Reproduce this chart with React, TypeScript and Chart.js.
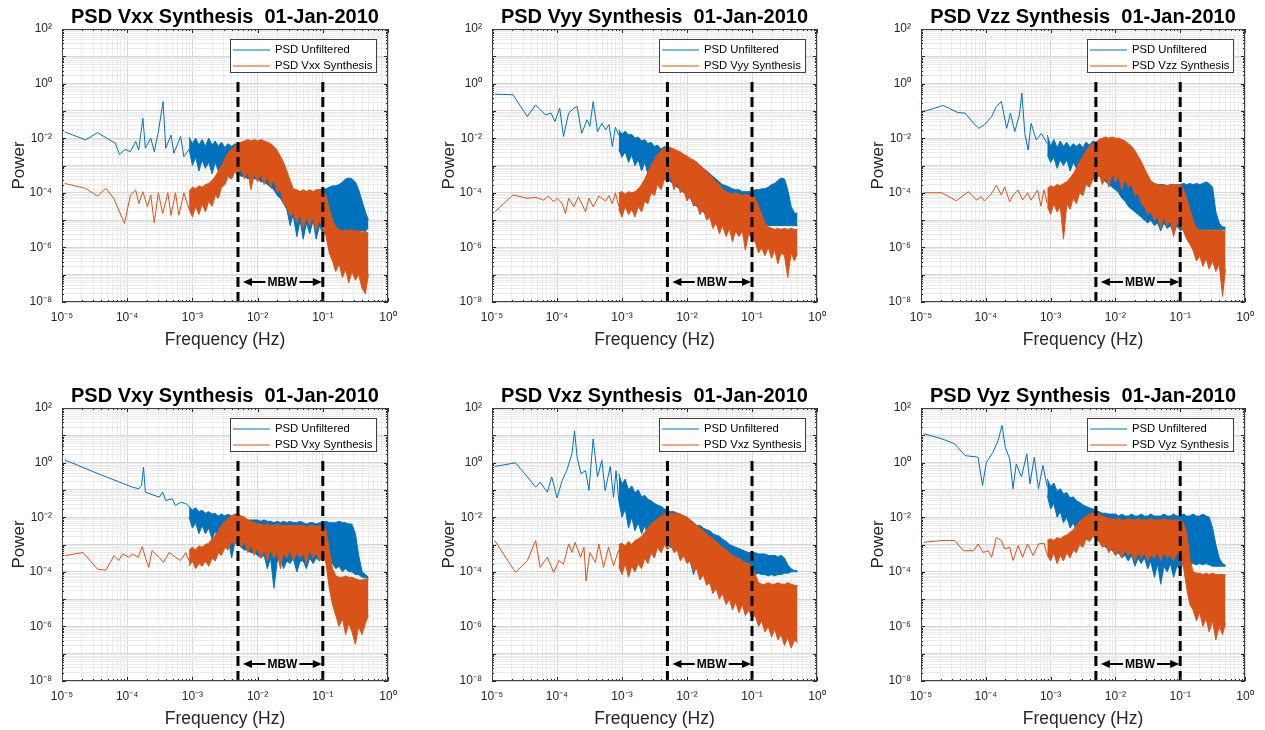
import React, { useEffect, useRef } from 'react';
import { Chart, registerables } from 'chart.js';

Chart.register(...registerables);

const FONT = "'Liberation Sans', Arial, Helvetica, sans-serif";
const BLUE = '#0072BD';
const ORANGE = '#D95319';
const TEXT = '#262626';

// ---- axis / annotation values ----
const freqRange = [1e-5, 1];
const powerRange = [1e-8, 1e2];
const xLabelExponents = [-5, -4, -3, -2, -1, 0];
const yLabelExponents = [-8, -6, -4, -2, 0, 2];
const mbwBand = [5e-3, 0.1];
const mbwLineTop = 1.75;
const mbwArrowLevel = [5.4e-8, 5.4e-8, 5.4e-8, 4.1e-8, 4.1e-8, 4.1e-8];
const components = ['Vxx', 'Vyy', 'Vzz', 'Vxy', 'Vxz', 'Vyz'];
const dateLabel = '01-Jan-2010';
const unfilteredLabel = 'PSD Unfiltered';

// frequency bins (Hz) where the dense spectra are read as upper / lower envelopes
const denseFreq = [
  8.9e-4, 1e-3, 1.12e-3, 1.26e-3, 1.41e-3, 1.58e-3, 1.78e-3, 2e-3, 2.24e-3, 2.5e-3,
  2.8e-3, 3.16e-3, 3.5e-3, 4e-3, 4.5e-3, 5e-3, 5.6e-3, 6.3e-3, 7.1e-3, 7.9e-3,
  8.9e-3, 1e-2, 1.12e-2, 1.26e-2, 1.41e-2, 1.58e-2, 1.78e-2, 2e-2, 2.24e-2, 2.5e-2,
  2.8e-2, 3.16e-2, 3.5e-2, 4e-2, 4.5e-2, 5e-2, 5.6e-2, 6.3e-2, 7.1e-2, 7.9e-2,
  8.9e-2, 0.1, 0.112, 0.126, 0.141, 0.158, 0.178, 0.2, 0.224, 0.25,
  0.28, 0.316, 0.355, 0.4, 0.45, 0.5,
];

// ---- Vxx ----
const vxxUnfLineF = [1.1e-5, 2.3e-5, 3.5e-5, 6.6e-5, 7.6e-5, 9.3e-5, 1.12e-4, 1.35e-4, 1.5e-4, 1.74e-4, 1.9e-4, 2.3e-4, 2.6e-4, 3.0e-4, 3.55e-4, 3.9e-4, 4.7e-4, 5.2e-4, 6.6e-4, 7.4e-4, 8.9e-4];
const vxxUnfLineP = [1.7e-2, 8.7e-3, 1.6e-2, 6.5e-3, 2.5e-3, 3.9e-3, 3.2e-3, 7.6e-3, 3.7e-3, 5.4e-2, 4.3e-3, 1e-2, 3.2e-3, 1.7e-2, 2.2e-1, 4.3e-3, 1.3e-2, 2.8e-3, 1.15e-2, 2.1e-3, 4e-3];
const vxxUnfHi = [
  1.1e-2, 6.3e-3, 1e-2, 5.6e-3, 8.9e-3, 5e-3, 1e-2, 5.6e-3, 7.9e-3, 5e-3,
  7.1e-3, 4.5e-3, 6.3e-3, 5e-3, 6.3e-3, 5.6e-3, 6.3e-3, 6.3e-3, 5.6e-3, 6.3e-3,
  6.3e-3, 5.6e-3, 6.3e-3, 5e-3, 4.5e-3, 4e-3, 3.2e-3, 2.5e-3, 1.8e-3, 1.1e-3,
  5e-4, 2e-4, 1.3e-4, 1.1e-4, 1.1e-4, 1.1e-4, 1.1e-4, 1.1e-4, 1.1e-4, 1.1e-4,
  1.3e-4, 1.3e-4, 1.4e-4, 1.6e-4, 1.8e-4, 1.8e-4, 2e-4, 2.5e-4, 3.2e-4, 3.5e-4,
  3.2e-4, 2.5e-4, 1.3e-4, 5e-5, 2e-5, 1e-5,
];
const vxxUnfLo = [
  4e-3, 1e-3, 2e-3, 6.3e-4, 1.6e-3, 7.9e-4, 1.3e-3, 5e-4, 1.3e-3, 6.3e-4,
  1e-3, 4e-4, 7.9e-4, 5e-4, 7.9e-4, 5e-4, 4e-4, 4e-4, 3.2e-4, 4e-4,
  3.2e-4, 3.2e-4, 2.5e-4, 2.5e-4, 2e-4, 1.6e-4, 1.3e-4, 7.9e-5, 6.3e-5, 4e-5,
  2.5e-5, 6.3e-6, 1.6e-5, 2.5e-6, 1e-5, 2e-6, 7.9e-6, 3.2e-6, 1e-5, 2e-6,
  6.3e-6, 3.2e-6, 5e-6, 4e-6, 5e-6, 4e-6, 4e-6, 4e-6, 4e-6, 4e-6,
  4e-6, 4e-6, 4e-6, 4e-6, 4e-6, 5e-6,
];
const vxxSynLineF = [1.1e-5, 2.3e-5, 3.5e-5, 4.7e-5, 6.2e-5, 9.1e-5, 1.12e-4, 1.35e-4, 1.51e-4, 1.74e-4, 2.04e-4, 2.3e-4, 2.6e-4, 3.0e-4, 3.5e-4, 4.2e-4, 4.7e-4, 5.5e-4, 6.2e-4, 7.4e-4, 8.9e-4];
const vxxSynLineP = [2.2e-4, 1.45e-4, 7.6e-5, 1.45e-4, 6.3e-5, 7.6e-6, 8.3e-5, 1.26e-4, 4.1e-5, 1.1e-4, 3.1e-5, 8.3e-5, 7.9e-6, 1e-4, 1.74e-5, 1e-4, 1.5e-5, 1e-4, 1.5e-5, 1e-4, 2.5e-5];
const vxxSynHi = [
  1.1e-4, 1.6e-4, 1.4e-4, 1.8e-4, 1.6e-4, 2e-4, 2.2e-4, 2.8e-4, 4e-4, 6.3e-4,
  1e-3, 1.8e-3, 2.8e-3, 4e-3, 5e-3, 6.3e-3, 7.1e-3, 7.9e-3, 8.9e-3, 7.9e-3,
  8.9e-3, 7.9e-3, 8.9e-3, 7.9e-3, 7.1e-3, 6.3e-3, 5e-3, 3.5e-3, 2.2e-3, 1.3e-3,
  6.3e-4, 2.8e-4, 1.4e-4, 1.3e-4, 1.1e-4, 1.3e-4, 1.1e-4, 1.3e-4, 1.1e-4, 1.3e-4,
  1.3e-4, 1.1e-4, 7.9e-5, 2.5e-5, 1e-5, 5.6e-6, 4.5e-6, 4e-6, 4.5e-6, 4e-6,
  4.5e-6, 4e-6, 4e-6, 3.5e-6, 4e-6, 3.2e-6,
];
const vxxSynLo = [
  2.5e-5, 1.3e-5, 3.2e-5, 1.6e-5, 4e-5, 2e-5, 5e-5, 3.2e-5, 7.9e-5, 6.3e-5,
  1.6e-4, 2e-4, 4e-4, 3.2e-4, 6.3e-4, 4e-4, 7.9e-4, 3.2e-4, 6.3e-4, 1.3e-4,
  5e-4, 2.5e-4, 5e-4, 2e-4, 4e-4, 1.6e-4, 3.2e-4, 1e-4, 1.3e-4, 4e-5,
  3.2e-5, 1.3e-5, 2e-5, 7.9e-6, 1.6e-5, 5e-6, 1.3e-5, 6.3e-6, 1.3e-5, 4e-6,
  1e-5, 5e-6, 2.5e-6, 6.3e-7, 3.2e-7, 1.3e-7, 2.5e-7, 7.9e-8, 1.6e-7, 5e-8,
  1.3e-7, 6.3e-8, 1e-7, 3.2e-8, 2e-8, 1e-7,
];

// ---- Vyy ----
const vyyUnfLineF = [1.1e-5, 2.1e-5, 3.5e-5, 4.7e-5, 6.6e-5, 8.1e-5, 9.3e-5, 1.1e-4, 1.26e-4, 1.51e-4, 1.82e-4, 2.04e-4, 2.4e-4, 2.9e-4, 3.2e-4, 3.6e-4, 4.2e-4, 4.9e-4, 5.6e-4, 6.3e-4, 7.1e-4, 7.9e-4, 8.9e-4];
const vyyUnfLineP = [0.41, 0.39, 6.2e-2, 0.166, 7.1e-2, 8.3e-2, 4.1e-2, 0.126, 1.15e-2, 8.3e-2, 0.126, 0.145, 1.5e-2, 4.7e-2, 2.7e-2, 0.22, 1.74e-2, 3.5e-2, 2e-2, 3.2e-2, 5e-3, 2.5e-2, 1.3e-2];
const vyyUnfHi = [
  2e-2, 1.4e-2, 1.8e-2, 1.3e-2, 1.4e-2, 1e-2, 1.1e-2, 7.9e-3, 8.9e-3, 6.3e-3,
  7.1e-3, 5e-3, 5.6e-3, 4e-3, 5e-3, 4.5e-3, 4e-3, 3.5e-3, 3.2e-3, 2.8e-3,
  2.5e-3, 2e-3, 1.6e-3, 1.4e-3, 1.3e-3, 1e-3, 7.9e-4, 6.3e-4, 5e-4, 4e-4,
  3.2e-4, 2.5e-4, 2e-4, 1.8e-4, 1.6e-4, 1.4e-4, 1.3e-4, 1.3e-4, 1.1e-4, 1.1e-4,
  1.1e-4, 1.1e-4, 1.3e-4, 1.3e-4, 1.4e-4, 1.4e-4, 1.6e-4, 2e-4, 2.2e-4, 2.8e-4,
  3.5e-4, 3.2e-4, 1.3e-4, 3.2e-5, 1.8e-5, 1.8e-5,
];
const vyyUnfLo = [
  4e-3, 2e-3, 3.2e-3, 1.3e-3, 2.5e-3, 1e-3, 1.6e-3, 6.3e-4, 1.3e-3, 5e-4,
  1e-3, 4e-4, 7.9e-4, 1.6e-4, 6.3e-4, 3.2e-4, 2.5e-4, 2e-4, 1.6e-4, 1.3e-4,
  1e-4, 7.9e-5, 6.3e-5, 4e-5, 3.2e-5, 2.5e-5, 2e-5, 1.6e-5, 1.6e-5, 1.3e-5,
  1e-5, 1e-5, 7.9e-6, 1e-5, 7.9e-6, 1e-5, 7.9e-6, 1e-5, 1e-5, 1e-5,
  1e-5, 7.9e-6, 7.9e-6, 6.3e-6, 6.3e-6, 6.3e-6, 6.3e-6, 6.3e-6, 6.3e-6, 6.3e-6,
  6.3e-6, 6.3e-6, 6.3e-6, 6.3e-6, 6.3e-6, 6.3e-6,
];
const vyySynLineF = [1.1e-5, 2.1e-5, 3.5e-5, 4.7e-5, 6.2e-5, 7.4e-5, 8.9e-5, 1e-4, 1.2e-4, 1.35e-4, 1.51e-4, 1.82e-4, 2.14e-4, 2.75e-4, 3.1e-4, 3.6e-4, 4.4e-4, 5.6e-4, 6.3e-4, 7.1e-4, 7.9e-4, 8.9e-4];
const vyySynLineP = [2e-5, 8.3e-5, 6.3e-5, 6.8e-5, 5.4e-5, 7.6e-5, 4.7e-5, 6.3e-5, 4.1e-5, 1.74e-5, 6.3e-5, 3.1e-5, 7.2e-5, 2e-5, 6.3e-5, 3.1e-5, 7.6e-5, 5e-5, 7.9e-5, 4e-5, 1e-4, 3.2e-5];
const vyySynHi = [
  1e-4, 1.1e-4, 8.9e-5, 1.1e-4, 1e-4, 1.1e-4, 1.4e-4, 2e-4, 3.2e-4, 5.6e-4,
  1e-3, 1.6e-3, 2.5e-3, 3.5e-3, 4.5e-3, 5e-3, 4.5e-3, 4e-3, 3.5e-3, 3.2e-3,
  2.5e-3, 2.2e-3, 1.8e-3, 1.6e-3, 1.3e-3, 1e-3, 7.9e-4, 6.3e-4, 4.5e-4, 3.5e-4,
  2.5e-4, 2e-4, 1.4e-4, 1.1e-4, 1e-4, 8.9e-5, 1e-4, 8.9e-5, 7.9e-5, 8.9e-5,
  7.9e-5, 8.9e-5, 6.3e-5, 3.2e-5, 1.6e-5, 7.9e-6, 5.6e-6, 5e-6, 4.5e-6, 5e-6,
  4.5e-6, 5e-6, 4.5e-6, 5e-6, 4.5e-6, 4.5e-6,
];
const vyySynLo = [
  2.5e-5, 1.3e-5, 3.2e-5, 1.6e-5, 2.5e-5, 1.3e-5, 3.2e-5, 2e-5, 5e-5, 4e-5,
  1e-4, 7.9e-5, 2e-4, 1.3e-4, 3.2e-4, 2.5e-4, 4e-4, 1.3e-4, 2.5e-4, 1e-4,
  1.3e-4, 5e-5, 7.9e-5, 3.2e-5, 4e-5, 1.6e-5, 2.5e-5, 1e-5, 1.3e-5, 5e-6,
  7.9e-6, 3.2e-6, 6.3e-6, 2.5e-6, 5e-6, 1.6e-6, 4e-6, 2.5e-6, 4e-6, 7.9e-7,
  3.2e-6, 2e-6, 1.6e-6, 6.3e-7, 1e-6, 5e-7, 1e-6, 4e-7, 7.9e-7, 2.5e-7,
  6.3e-7, 5e-7, 7.9e-8, 6.3e-7, 3.2e-7, 6.3e-7,
];

// ---- Vzz ----
const vzzUnfLineF = [1.1e-5, 2.2e-5, 3.7e-5, 4.8e-5, 6.5e-5, 7.8e-5, 9.5e-5, 1.23e-4, 1.45e-4, 1.74e-4, 2.1e-4, 2.4e-4, 2.8e-4, 3.3e-4, 3.6e-4, 4e-4, 4.5e-4, 5e-4, 6e-4, 7.2e-4, 8.9e-4];
const vzzUnfLineP = [9.5e-2, 0.158, 8.7e-2, 8.3e-2, 3.5e-2, 2.3e-2, 3.1e-2, 6.2e-2, 0.145, 0.22, 2.3e-2, 8.3e-2, 1.74e-2, 7.1e-2, 0.45, 1.5e-2, 3.7e-3, 3.5e-2, 8.7e-3, 1.5e-2, 6.3e-3];
const vzzUnfHi = [
  1.3e-2, 5e-3, 8.9e-3, 4.5e-3, 7.9e-3, 5e-3, 7.1e-3, 4.5e-3, 6.3e-3, 5e-3,
  6.3e-3, 4.5e-3, 7.1e-3, 5.6e-3, 7.9e-3, 7.1e-3, 7.9e-3, 7.9e-3, 7.1e-3, 7.9e-3,
  7.9e-3, 7.1e-3, 6.3e-3, 5e-3, 4e-3, 2.8e-3, 2e-3, 1.4e-3, 1e-3, 6.3e-4,
  4e-4, 2.8e-4, 2.5e-4, 2.2e-4, 2e-4, 2e-4, 2e-4, 1.8e-4, 2e-4, 2e-4,
  2e-4, 2e-4, 2.2e-4, 2e-4, 2.2e-4, 2e-4, 2.2e-4, 2e-4, 2.2e-4, 2.5e-4,
  2.2e-4, 1.6e-4, 2e-5, 7.9e-6, 5.6e-6, 5.6e-6,
];
const vzzUnfLo = [
  2.5e-3, 1.3e-3, 2e-3, 7.9e-4, 1.6e-3, 1e-3, 1.6e-3, 6.3e-4, 1.3e-3, 7.9e-4,
  1.3e-3, 5e-4, 1e-3, 3.2e-4, 7.9e-4, 5e-4, 4e-4, 3.2e-4, 2.5e-4, 2e-4,
  1.6e-4, 1.3e-4, 1e-4, 6.3e-5, 5e-5, 3.2e-5, 2.5e-5, 2e-5, 1.6e-5, 1.3e-5,
  1e-5, 7.9e-6, 1e-5, 6.3e-6, 7.9e-6, 4e-6, 7.9e-6, 5e-6, 6.3e-6, 3.2e-6,
  6.3e-6, 4e-6, 5e-6, 5e-6, 5e-6, 4.5e-6, 4.5e-6, 4.5e-6, 4.5e-6, 4.5e-6,
  4.5e-6, 4.5e-6, 4.5e-6, 4.5e-6, 4.5e-6, 4.5e-6,
];
const vzzSynLineF = [1.1e-5, 2.1e-5, 3.5e-5, 5.4e-5, 7.2e-5, 8.5e-5, 9.5e-5, 1.23e-4, 1.45e-4, 1.74e-4, 1.95e-4, 2.34e-4, 2.63e-4, 3.16e-4, 3.7e-4, 4.4e-4, 5e-4, 6.3e-4, 7.1e-4, 7.9e-4, 8.9e-4];
const vzzSynLineP = [1e-4, 1e-4, 5.1e-5, 1.1e-4, 5.4e-5, 7.2e-5, 5e-5, 9.5e-5, 1.9e-4, 8.3e-5, 1.66e-4, 4.7e-5, 8.3e-5, 1.26e-4, 5.4e-5, 1e-4, 5.4e-5, 1.26e-4, 3.2e-5, 1.3e-4, 4e-5];
const vzzSynHi = [
  1.4e-4, 1.8e-4, 1.6e-4, 2e-4, 1.8e-4, 2.2e-4, 2.5e-4, 3.5e-4, 5e-4, 7.9e-4,
  1.4e-3, 2.2e-3, 3.5e-3, 5e-3, 6.3e-3, 7.1e-3, 8.9e-3, 1e-2, 1.1e-2, 1e-2,
  1.1e-2, 1e-2, 1e-2, 8.9e-3, 7.9e-3, 6.3e-3, 5e-3, 3.5e-3, 2.2e-3, 1.4e-3,
  7.9e-4, 4.5e-4, 2.8e-4, 2.2e-4, 2e-4, 1.8e-4, 2e-4, 1.8e-4, 2e-4, 2e-4,
  2e-4, 2e-4, 1.4e-4, 6.3e-5, 2.5e-5, 1e-5, 5e-6, 4.5e-6, 4e-6, 4.5e-6,
  4e-6, 4.5e-6, 4e-6, 4.5e-6, 4e-6, 4e-6,
];
const vzzSynLo = [
  3.2e-5, 1.6e-5, 4e-5, 2e-5, 3.2e-5, 2e-6, 4e-5, 2.5e-5, 6.3e-5, 4e-5,
  1e-4, 7.9e-5, 2e-4, 1.6e-4, 3.2e-4, 2.5e-4, 5e-4, 2e-4, 4e-4, 1.6e-4,
  5e-4, 2.5e-4, 4e-4, 1.3e-4, 3.2e-4, 1.6e-4, 2e-4, 7.9e-5, 1e-4, 4e-5,
  3.2e-5, 1.6e-5, 2e-5, 1e-5, 1.3e-5, 5e-6, 1.3e-5, 6.3e-6, 1e-5, 2.5e-6,
  7.9e-6, 6.3e-6, 4e-6, 2e-6, 1.3e-6, 7.9e-7, 3.2e-7, 5e-7, 2e-7, 4e-7,
  1.6e-7, 3.2e-7, 1.3e-7, 2.5e-7, 1.6e-8, 1.6e-7,
];

// ---- Vxy ----
const vxyUnfLineF = [1.1e-5, 3.6e-5, 1.2e-4, 1.51e-4, 1.66e-4, 1.78e-4, 1.9e-4, 2.4e-4, 3.1e-4, 3.5e-4, 3.9e-4, 4.9e-4, 5.5e-4, 6.6e-4, 7.9e-4, 8.9e-4];
const vxyUnfLineP = [1.26, 0.39, 0.126, 0.11, 0.145, 0.68, 8.3e-2, 6.8e-2, 5.4e-2, 8.3e-2, 4.1e-2, 4.7e-2, 2.7e-2, 3.5e-2, 3.16e-2, 2.5e-2];
const vxyUnfHi = [
  2.5e-2, 1.8e-2, 2.2e-2, 1.6e-2, 1.8e-2, 1.4e-2, 1.6e-2, 1.3e-2, 1.4e-2, 1.1e-2,
  1.3e-2, 1.1e-2, 1.3e-2, 1.1e-2, 1.3e-2, 1.1e-2, 1e-2, 8.9e-3, 7.9e-3, 7.9e-3,
  7.9e-3, 7.9e-3, 7.1e-3, 7.9e-3, 7.1e-3, 7.1e-3, 6.3e-3, 7.1e-3, 6.3e-3, 7.1e-3,
  6.3e-3, 7.1e-3, 6.3e-3, 6.3e-3, 7.1e-3, 6.3e-3, 5.6e-3, 6.3e-3, 6.3e-3, 5.6e-3,
  6.3e-3, 6.3e-3, 7.1e-3, 6.3e-3, 6.3e-3, 6.3e-3, 7.1e-3, 6.3e-3, 6.3e-3, 5.6e-3,
  5.6e-3, 2.5e-3, 4e-4, 1e-4, 7.9e-5, 6.3e-5,
];
const vxyUnfLo = [
  1e-2, 4e-3, 6.3e-3, 2.5e-3, 5e-3, 2.5e-3, 4e-3, 1.6e-3, 3.2e-3, 1.3e-3,
  2.5e-3, 1.3e-3, 2e-3, 3.2e-4, 1.3e-3, 1e-3, 7.9e-4, 6.3e-4, 6.3e-4, 5e-4,
  5e-4, 4e-4, 3.2e-4, 4e-4, 1.3e-4, 3.2e-4, 2.5e-5, 2.5e-4, 3.2e-4, 1.3e-4,
  2.5e-4, 2e-4, 3.2e-4, 1e-4, 2.5e-4, 2.5e-4, 1.3e-4, 3.2e-4, 2e-4, 3.2e-4,
  2.5e-4, 4e-4, 2.5e-4, 1.6e-4, 2e-4, 1.3e-4, 1.6e-4, 1e-4, 1.3e-4, 1e-4,
  1e-4, 7.9e-5, 7.9e-5, 6.3e-5, 6.3e-5, 5.6e-5,
];
const vxySynLineF = [1.1e-5, 2.1e-5, 3.5e-5, 4.7e-5, 6.3e-5, 7.4e-5, 8.5e-5, 1.07e-4, 1.2e-4, 1.48e-4, 1.7e-4, 1.9e-4, 2.14e-4, 2.4e-4, 3.1e-4, 3.6e-4, 4.4e-4, 5.5e-4, 6.6e-4, 7.9e-4, 8.9e-4];
const vxySynLineP = [3.9e-4, 5.1e-4, 1.26e-4, 1.15e-4, 3.9e-4, 2.6e-4, 4.5e-4, 3.4e-4, 4.5e-4, 3.4e-4, 8.3e-4, 3.4e-4, 1.45e-4, 5.9e-4, 3.4e-4, 2.2e-4, 5.1e-4, 3.4e-4, 2.6e-4, 5e-4, 2.5e-4];
const vxySynHi = [
  6.3e-4, 7.9e-4, 6.3e-4, 8.9e-4, 7.9e-4, 1e-3, 1.1e-3, 1.6e-3, 2.2e-3, 3.2e-3,
  5e-3, 7.1e-3, 8.9e-3, 1.1e-2, 1.3e-2, 1.3e-2, 1.1e-2, 1e-2, 7.9e-3, 7.1e-3,
  6.3e-3, 5.6e-3, 5.6e-3, 5e-3, 5.6e-3, 5e-3, 5e-3, 5.6e-3, 5e-3, 5e-3,
  5e-3, 5e-3, 5e-3, 5e-3, 5e-3, 5e-3, 4.5e-3, 5e-3, 5e-3, 4.5e-3,
  5e-3, 4.5e-3, 3.5e-3, 6.3e-4, 1.3e-4, 7.1e-5, 6.3e-5, 6.3e-5, 7.1e-5, 6.3e-5,
  6.3e-5, 5.6e-5, 5e-5, 5e-5, 5.6e-5, 5e-5,
];
const vxySynLo = [
  1.6e-4, 2.5e-4, 1.3e-4, 2e-4, 1.6e-4, 2.5e-4, 1.6e-4, 3.2e-4, 2.5e-4, 5e-4,
  4e-4, 7.9e-4, 6.3e-4, 1.3e-3, 1e-3, 1.6e-3, 7.9e-4, 1.3e-3, 5e-4, 1e-3,
  4e-4, 7.9e-4, 3.2e-4, 6.3e-4, 2.5e-4, 6.3e-4, 3.2e-4, 5e-4, 1.3e-4, 5e-4,
  3.2e-4, 6.3e-4, 2.5e-4, 5e-4, 3.2e-4, 5e-4, 2e-4, 6.3e-4, 3.2e-4, 5e-4,
  2.5e-4, 5e-4, 2e-4, 2.5e-5, 6.3e-6, 2.5e-6, 1e-6, 2e-6, 5e-7, 1.3e-6,
  6.3e-7, 2.2e-7, 1e-6, 5e-7, 1.3e-6, 2.5e-6,
];

// ---- Vxz ----
const vxzUnfLineF = [1.1e-5, 2.3e-5, 3.5e-5, 4.7e-5, 5.5e-5, 7.1e-5, 8.3e-5, 1e-4, 1.2e-4, 1.41e-4, 1.7e-4, 1.86e-4, 2.04e-4, 2.34e-4, 2.75e-4, 3.1e-4, 3.6e-4, 4.2e-4, 4.9e-4, 5.5e-4, 6.6e-4, 7.4e-4, 8.1e-4, 8.9e-4];
const vxzUnfLineP = [0.72, 0.98, 0.3, 0.126, 0.19, 8.3e-2, 0.3, 5.1e-2, 0.22, 0.51, 2.1, 14.5, 1.58, 0.39, 0.51, 9.5e-2, 7.4, 0.3, 1.2, 9.5e-2, 0.72, 5.4e-2, 0.51, 4.1e-2];
const vxzUnfHi = [
  0.4, 0.16, 0.25, 0.1, 0.14, 7.9e-2, 0.1, 5.6e-2, 6.3e-2, 4.5e-2,
  4e-2, 3.2e-2, 2.8e-2, 2.5e-2, 2e-2, 1.8e-2, 1.6e-2, 1.6e-2, 1.4e-2, 1.3e-2,
  1.1e-2, 1e-2, 7.9e-3, 6.3e-3, 5e-3, 5e-3, 4e-3, 3.5e-3, 3.2e-3, 2.5e-3,
  2.2e-3, 2e-3, 1.6e-3, 1.3e-3, 1e-3, 8.9e-4, 7.9e-4, 7.1e-4, 6.3e-4, 5.6e-4,
  5e-4, 5e-4, 5e-4, 4.5e-4, 4.5e-4, 4.5e-4, 4e-4, 4e-4, 4e-4, 3.5e-4,
  4e-4, 3.2e-4, 1.8e-4, 1.3e-4, 1.1e-4, 1.1e-4,
];
const vxzUnfLo = [
  4e-2, 1e-2, 2e-2, 4e-3, 1e-2, 3.2e-3, 6.3e-3, 2.5e-3, 5e-3, 2e-3,
  3.2e-3, 1.6e-3, 2.5e-3, 1e-3, 2e-3, 1e-3, 7.9e-4, 7.9e-4, 6.3e-4, 5e-4,
  4e-4, 3.2e-4, 2.5e-4, 7.9e-5, 2e-4, 1.6e-4, 1.6e-4, 1.3e-4, 1.3e-4, 1e-4,
  1.1e-4, 1e-4, 1e-4, 8.9e-5, 1e-4, 8.9e-5, 7.9e-5, 1e-4, 7.9e-5, 8.9e-5,
  7.9e-5, 8.9e-5, 7.9e-5, 8.9e-5, 7.9e-5, 7.9e-5, 7.1e-5, 7.9e-5, 7.1e-5, 7.9e-5,
  7.9e-5, 8.9e-5, 8.9e-5, 1e-4, 1e-4, 1e-4,
];
const vxzSynLineF = [1.1e-5, 2.3e-5, 3.5e-5, 4.7e-5, 5.5e-5, 7.1e-5, 8.9e-5, 1.07e-4, 1.26e-4, 1.51e-4, 1.7e-4, 1.9e-4, 2.3e-4, 2.6e-4, 2.8e-4, 3.2e-4, 3.9e-4, 4.4e-4, 5.2e-4, 6.2e-4, 7.4e-4, 8.9e-4];
const vxzSynLineP = [1.4e-3, 9.5e-5, 2.6e-4, 1.4e-3, 1.45e-4, 3.4e-4, 9.5e-5, 2.6e-4, 1.9e-4, 1.05e-3, 5.1e-4, 1.2e-3, 3.4e-4, 7.9e-4, 4.7e-5, 5.1e-4, 2.2e-4, 1.05e-3, 1.45e-4, 7.9e-4, 1.66e-4, 6.3e-4];
const vxzSynHi = [
  1e-3, 1.1e-3, 8.9e-4, 1.3e-3, 1e-3, 1.4e-3, 1.6e-3, 2e-3, 2.8e-3, 4e-3,
  5.6e-3, 7.1e-3, 8.9e-3, 1.1e-2, 1.3e-2, 1.4e-2, 1.4e-2, 1.3e-2, 1.4e-2, 1.3e-2,
  1.1e-2, 1e-2, 7.9e-3, 6.3e-3, 5e-3, 4e-3, 3.2e-3, 2.5e-3, 2e-3, 1.6e-3,
  1.3e-3, 1e-3, 7.9e-4, 6.3e-4, 5e-4, 4e-4, 3.5e-4, 3.2e-4, 2.5e-4, 2.2e-4,
  2e-4, 1.6e-4, 7.9e-5, 4e-5, 3.5e-5, 3.5e-5, 4e-5, 3.5e-5, 3.5e-5, 4e-5,
  3.5e-5, 3.5e-5, 4e-5, 3.5e-5, 3.2e-5, 3.2e-5,
];
const vxzSynLo = [
  1.6e-4, 7.9e-5, 2e-4, 6.3e-5, 1.6e-4, 1e-4, 2e-4, 1.3e-4, 3.2e-4, 2e-4,
  5e-4, 3.2e-4, 7.9e-4, 5e-4, 1e-3, 6.3e-4, 1e-3, 5e-4, 6.3e-4, 2.5e-4,
  4e-4, 2e-4, 2.5e-4, 1e-4, 1.3e-4, 5e-5, 7.9e-5, 3.2e-5, 4e-5, 1.6e-5,
  2.5e-5, 1e-5, 1.6e-5, 6.3e-6, 1e-5, 4e-6, 7.9e-6, 3.2e-6, 6.3e-6, 2.5e-6,
  4e-6, 2e-6, 2.5e-6, 1e-6, 1.6e-6, 6.3e-7, 1e-6, 4e-7, 7.9e-7, 3.2e-7,
  5e-7, 2e-7, 4e-7, 1.6e-7, 3.2e-7, 2.5e-7,
];

// ---- Vyz ----
const vyzUnfLineF = [1.1e-5, 2.1e-5, 3.3e-5, 4.8e-5, 7.6e-5, 8.9e-5, 1.02e-4, 1.29e-4, 1.55e-4, 1.78e-4, 2e-4, 2.34e-4, 2.63e-4, 2.95e-4, 3.55e-4, 4.3e-4, 4.8e-4, 5.6e-4, 6.5e-4, 7.6e-4, 8.9e-4];
const vyzUnfLineP = [11.5, 7.4, 4.9, 1.8, 1.58, 0.145, 1.02, 2.4, 6.5, 23, 3.6, 1.35, 0.11, 0.89, 0.3, 2.1, 0.166, 1.58, 0.11, 0.79, 0.13];
const vyzUnfHi = [
  0.25, 0.13, 0.18, 8.9e-2, 0.11, 7.1e-2, 7.9e-2, 5e-2, 5.6e-2, 4e-2,
  3.5e-2, 2.8e-2, 2.5e-2, 2.2e-2, 2e-2, 1.8e-2, 1.6e-2, 1.4e-2, 1.4e-2, 1.3e-2,
  1.3e-2, 1.3e-2, 1.1e-2, 1.3e-2, 1.1e-2, 1.1e-2, 1.3e-2, 1.1e-2, 1.1e-2, 1.3e-2,
  1.1e-2, 1.1e-2, 1.3e-2, 1.1e-2, 1.1e-2, 1.1e-2, 1.3e-2, 1.1e-2, 1.1e-2, 1.3e-2,
  1.1e-2, 1.1e-2, 1.3e-2, 1.1e-2, 1.1e-2, 1.3e-2, 1.1e-2, 1.1e-2, 1.3e-2, 1.1e-2,
  1e-2, 4e-3, 1e-3, 3.2e-4, 2e-4, 1.8e-4,
];
const vyzUnfLo = [
  6.3e-2, 2e-2, 3.2e-2, 1e-2, 1.6e-2, 6.3e-3, 1e-2, 4e-3, 6.3e-3, 3.2e-3,
  5e-3, 2.5e-3, 4e-3, 2e-3, 3.2e-3, 1.6e-3, 1.3e-3, 1e-3, 7.9e-4, 6.3e-4,
  6.3e-4, 4e-4, 5e-4, 3.2e-4, 4e-4, 2.5e-4, 4e-4, 1.6e-4, 3.2e-4, 2e-4,
  3.2e-4, 1.3e-4, 2.5e-4, 6.3e-5, 2e-4, 3.5e-5, 1.6e-4, 1e-4, 2e-4, 6.3e-5,
  1.6e-4, 1.3e-4, 2e-4, 1.6e-4, 2e-4, 2e-4, 1.8e-4, 2e-4, 1.8e-4, 2e-4,
  1.8e-4, 1.6e-4, 1.6e-4, 1.6e-4, 1.6e-4, 1.6e-4,
];
const vyzSynLineF = [1.1e-5, 2.1e-5, 3.3e-5, 4.5e-5, 6.5e-5, 7.6e-5, 9.1e-5, 1.1e-4, 1.23e-4, 1.45e-4, 1.74e-4, 1.95e-4, 2.34e-4, 2.63e-4, 3.16e-4, 3.7e-4, 4.4e-4, 5.4e-4, 6.5e-4, 7.9e-4, 8.9e-4];
const vyzSynLineP = [1.2e-3, 1.4e-3, 1.4e-3, 5.9e-4, 5.9e-4, 1.05e-3, 5.1e-4, 5.9e-4, 3.4e-4, 1.8e-3, 1.4e-3, 6.9e-4, 7.9e-4, 2.6e-4, 9.1e-4, 3.4e-4, 1.05e-3, 3.9e-4, 1.05e-3, 1.12e-3, 4e-4];
const vyzSynHi = [
  1.4e-3, 1.6e-3, 1.4e-3, 1.8e-3, 1.6e-3, 2e-3, 2.2e-3, 2.8e-3, 3.5e-3, 5e-3,
  7.1e-3, 8.9e-3, 1.1e-2, 1.3e-2, 1.4e-2, 1.4e-2, 1.3e-2, 1.1e-2, 1e-2, 8.9e-3,
  8.9e-3, 7.9e-3, 8.9e-3, 7.9e-3, 7.9e-3, 8.9e-3, 7.9e-3, 7.9e-3, 8.9e-3, 7.9e-3,
  7.9e-3, 7.9e-3, 8.9e-3, 7.9e-3, 7.9e-3, 7.9e-3, 8.9e-3, 7.9e-3, 7.9e-3, 7.9e-3,
  7.9e-3, 7.9e-3, 6.3e-3, 2.5e-3, 3.2e-4, 1e-4, 8.9e-5, 8.9e-5, 7.9e-5, 8.9e-5,
  7.9e-5, 8.9e-5, 7.9e-5, 7.9e-5, 7.9e-5, 7.9e-5,
];
const vyzSynLo = [
  4e-4, 2.5e-4, 5e-4, 2e-4, 4e-4, 2.5e-4, 5e-4, 3.2e-4, 6.3e-4, 5e-4,
  1e-3, 7.9e-4, 1.6e-3, 1.3e-3, 2e-3, 1.6e-3, 1.3e-3, 7.9e-4, 1e-3, 5e-4,
  7.9e-4, 4e-4, 6.3e-4, 3.2e-4, 6.3e-4, 4e-4, 5e-4, 2.5e-4, 5e-4, 3.2e-4,
  5e-4, 2.5e-4, 4e-4, 3.2e-4, 5e-4, 2.5e-4, 5e-4, 3.2e-4, 4e-4, 2.5e-4,
  5e-4, 3.2e-4, 1.6e-4, 2.5e-5, 6.3e-6, 4e-6, 1.6e-6, 3.2e-6, 1e-6, 2e-6,
  6.3e-7, 1.6e-6, 3.2e-7, 1e-6, 5e-7, 1.3e-6,
];

// table assembled from the arrays above: [line freq, line power, band upper, band lower]
const panelSeries = [
  { unf: [vxxUnfLineF, vxxUnfLineP, vxxUnfHi, vxxUnfLo], syn: [vxxSynLineF, vxxSynLineP, vxxSynHi, vxxSynLo] },
  { unf: [vyyUnfLineF, vyyUnfLineP, vyyUnfHi, vyyUnfLo], syn: [vyySynLineF, vyySynLineP, vyySynHi, vyySynLo] },
  { unf: [vzzUnfLineF, vzzUnfLineP, vzzUnfHi, vzzUnfLo], syn: [vzzSynLineF, vzzSynLineP, vzzSynHi, vzzSynLo] },
  { unf: [vxyUnfLineF, vxyUnfLineP, vxyUnfHi, vxyUnfLo], syn: [vxySynLineF, vxySynLineP, vxySynHi, vxySynLo] },
  { unf: [vxzUnfLineF, vxzUnfLineP, vxzUnfHi, vxzUnfLo], syn: [vxzSynLineF, vxzSynLineP, vxzSynHi, vxzSynLo] },
  { unf: [vyzUnfLineF, vyzUnfLineP, vyzUnfHi, vyzUnfLo], syn: [vyzSynLineF, vyzSynLineP, vyzSynHi, vyzSynLo] },
];

// ---- layout ----
const plotLeft = [62, 492, 921, 62, 492, 921];
const plotTop = [29, 29, 29, 408, 408, 408];
const plotWidth = [326, 325, 324, 326, 325, 324];
const PLOT_H = 273;
const AXIS_W = 62;
const TITLE_H = 29;
const XAXIS_H = 50;
const RIGHT_PAD = 20;

const SUP: Record<string, string> = { '-': '\u207B', '0': '\u2070', '1': '\u00B9', '2': '\u00B2', '3': '\u00B3', '4': '\u2074', '5': '\u2075', '6': '\u2076', '7': '\u2077', '8': '\u2078', '9': '\u2079' };
const sup = (n: number) => String(n).split('').map((c) => SUP[c] || c).join('');
const isDecade = (v: number) => {
  const l = Math.log10(v);
  return Math.abs(l - Math.round(l)) < 1e-6;
};
const logTicks = (lo: number, hi: number) => {
  const a = Math.round(Math.log10(lo));
  const b = Math.round(Math.log10(hi));
  const out: number[] = [];
  for (let e = a; e < b; e++) for (let k = 1; k <= 9; k++) out.push(k * Math.pow(10, e));
  out.push(Math.pow(10, b));
  return out;
};
const xTickValues = logTicks(freqRange[0], freqRange[1]);
const yTickValues = logTicks(powerRange[0], powerRange[1]);

const pts = (xs: number[], ys: number[]) => xs.map((x, i) => ({ x, y: ys[i] }));

const decorPlugin = {
  id: 'panelDecor',
  afterDraw(chart: any, _args: any, opts: any) {
    const { ctx, chartArea: a, scales } = chart;
    const xs = scales.x;
    const ys = scales.y;
    ctx.save();
    ctx.strokeStyle = TEXT;
    ctx.lineWidth = 1;
    ctx.beginPath();
    for (const t of xs.ticks) {
      const px = Math.round(xs.getPixelForValue(t.value)) + 0.5;
      const len = isDecade(t.value) ? 4 : 2;
      ctx.moveTo(px, a.bottom);
      ctx.lineTo(px, a.bottom - len);
      ctx.moveTo(px, a.top);
      ctx.lineTo(px, a.top + len);
    }
    for (const t of ys.ticks) {
      const py = Math.round(ys.getPixelForValue(t.value)) + 0.5;
      const len = isDecade(t.value) ? 4 : 2;
      ctx.moveTo(a.left, py);
      ctx.lineTo(a.left + len, py);
      ctx.moveTo(a.right, py);
      ctx.lineTo(a.right - len, py);
    }
    ctx.stroke();
    ctx.strokeStyle = '#404040';
    ctx.strokeRect(a.left + 0.5, a.top + 0.5, a.right - a.left - 1, a.bottom - a.top - 1);

    // MBW arrow
    const xl = xs.getPixelForValue(mbwBand[0]) + 5;
    const xr = xs.getPixelForValue(mbwBand[1]) - 1;
    const y = Math.round(ys.getPixelForValue(opts.arrowLevel));
    const mid = (xl + xr) / 2;
    ctx.font = `bold 12px ${FONT}`;
    const tw = ctx.measureText('MBW').width;
    ctx.strokeStyle = '#000';
    ctx.fillStyle = '#000';
    ctx.lineWidth = 2;
    ctx.beginPath();
    ctx.moveTo(xl + 5, y);
    ctx.lineTo(mid - tw / 2 - 2, y);
    ctx.moveTo(mid + tw / 2 + 2, y);
    ctx.lineTo(xr - 5, y);
    ctx.stroke();
    ctx.beginPath();
    ctx.moveTo(xl, y);
    ctx.lineTo(xl + 9, y - 4);
    ctx.lineTo(xl + 9, y + 4);
    ctx.closePath();
    ctx.fill();
    ctx.beginPath();
    ctx.moveTo(xr, y);
    ctx.lineTo(xr - 9, y - 4);
    ctx.lineTo(xr - 9, y + 4);
    ctx.closePath();
    ctx.fill();
    ctx.textAlign = 'center';
    ctx.textBaseline = 'middle';
    ctx.fillText('MBW', mid, y + 0.5);

    // legend
    ctx.font = `11.3px ${FONT}`;
    const labels = [unfilteredLabel, opts.synLabel];
    const colors = [BLUE, ORANGE];
    const w = Math.max(ctx.measureText(labels[0]).width, ctx.measureText(labels[1]).width);
    const bw = Math.round(45 + w + 4);
    const bh = 33;
    const bx = Math.round(a.right - 12 - bw);
    const by = Math.round(a.top + 10);
    ctx.fillStyle = '#fff';
    ctx.fillRect(bx, by, bw, bh);
    ctx.strokeStyle = '#404040';
    ctx.lineWidth = 1;
    ctx.strokeRect(bx + 0.5, by + 0.5, bw, bh);
    for (let i = 0; i < 2; i++) {
      const ly = by + 11 + i * 16;
      ctx.strokeStyle = colors[i];
      ctx.lineWidth = 1.2;
      ctx.beginPath();
      ctx.moveTo(bx + 3, ly);
      ctx.lineTo(bx + 40, ly);
      ctx.stroke();
      ctx.fillStyle = '#000';
      ctx.textAlign = 'left';
      ctx.textBaseline = 'middle';
      ctx.fillText(labels[i], bx + 45, ly);
    }
    ctx.restore();
  },
};

const gridColor = (c: any) => (c.tick && isDecade(c.tick.value) ? '#d6d6d6' : '#ebebeb');

function buildConfig(i: number): any {
  const s = panelSeries[i];
  const comp = components[i];
  const synLabel = `PSD ${comp} Synthesis`;
  const lineDs = (label: string, data: any[], color: string, extra: any = {}) => ({
    label,
    data,
    borderColor: color,
    backgroundColor: color,
    borderWidth: 1,
    pointRadius: 0,
    borderJoinStyle: 'bevel',
    fill: false,
    ...extra,
  });
  const datasets = [
    lineDs('MBW low edge', pts([mbwBand[0], mbwBand[0]], [powerRange[0], mbwLineTop]), '#000', { borderWidth: 3, borderDash: [10, 5] }),
    lineDs('MBW high edge', pts([mbwBand[1], mbwBand[1]], [powerRange[0], mbwLineTop]), '#000', { borderWidth: 3, borderDash: [10, 5] }),
    lineDs(synLabel, pts(s.syn[0], s.syn[1]), ORANGE),
    lineDs(synLabel + ' upper', pts(denseFreq, s.syn[2]), ORANGE, { fill: 4 }),
    lineDs(synLabel + ' lower', pts(denseFreq, s.syn[3]), ORANGE),
    lineDs(unfilteredLabel, pts(s.unf[0], s.unf[1]), BLUE),
    lineDs(unfilteredLabel + ' upper', pts(denseFreq, s.unf[2]), BLUE, { fill: 7 }),
    lineDs(unfilteredLabel + ' lower', pts(denseFreq, s.unf[3]), BLUE),
  ];
  const tickLabel = (allowed: number[]) => (v: number) => {
    if (!isDecade(v)) return '';
    const e = Math.round(Math.log10(v));
    return allowed.includes(e) ? '10' + sup(e) : '';
  };
  return {
    type: 'line',
    data: { datasets },
    plugins: [decorPlugin],
    options: {
      responsive: false,
      animation: false,
      devicePixelRatio: 1,
      events: [],
      layout: { padding: { left: 0, right: RIGHT_PAD, top: 0, bottom: 0 } },
      plugins: {
        legend: { display: false },
        tooltip: { enabled: false },
        title: {
          display: true,
          text: `PSD ${comp} Synthesis  ${dateLabel}`,
          fullSize: false,
          color: '#000',
          font: { family: FONT, size: 20, weight: 'bold', lineHeight: '20px' },
          padding: { top: 7, bottom: 2 },
        },
        panelDecor: { synLabel, arrowLevel: mbwArrowLevel[i] },
      },
      scales: {
        x: {
          type: 'logarithmic',
          min: freqRange[0],
          max: freqRange[1],
          afterBuildTicks: (sc: any) => {
            sc.ticks = xTickValues.map((v) => ({ value: v }));
          },
          afterFit: (sc: any) => {
            sc.height = XAXIS_H;
            sc.paddingLeft = 0;
            sc.paddingRight = 0;
          },
          grid: { color: gridColor, lineWidth: 1, drawTicks: false },
          border: { display: false },
          ticks: {
            autoSkip: false,
            maxRotation: 0,
            minRotation: 0,
            padding: 8,
            color: TEXT,
            font: { family: FONT, size: 12 },
            callback: tickLabel(xLabelExponents),
          },
          title: {
            display: true,
            text: 'Frequency (Hz)',
            color: TEXT,
            font: { family: FONT, size: 17.5 },
            padding: { top: 0, bottom: 1 },
          },
        },
        y: {
          type: 'logarithmic',
          min: powerRange[0],
          max: powerRange[1],
          afterBuildTicks: (sc: any) => {
            sc.ticks = yTickValues.map((v) => ({ value: v }));
          },
          afterFit: (sc: any) => {
            sc.width = AXIS_W;
            sc.paddingTop = 0;
            sc.paddingBottom = 0;
          },
          grid: { color: gridColor, lineWidth: 1, drawTicks: false },
          border: { display: false },
          ticks: {
            autoSkip: false,
            padding: 10,
            color: TEXT,
            font: { family: FONT, size: 12 },
            callback: tickLabel(yLabelExponents),
          },
          title: {
            display: true,
            text: 'Power',
            color: TEXT,
            font: { family: FONT, size: 17 },
            padding: { top: 9.5, bottom: 0 },
          },
        },
      },
    },
  };
}

function Panel({ index }: { index: number }) {
  const ref = useRef<HTMLCanvasElement | null>(null);
  const width = AXIS_W + plotWidth[index] + RIGHT_PAD;
  const height = TITLE_H + PLOT_H + XAXIS_H;
  useEffect(() => {
    if (!ref.current) return;
    const chart = new Chart(ref.current, buildConfig(index));
    return () => chart.destroy();
  }, [index]);
  return (
    <canvas
      ref={ref}
      width={width}
      height={height}
      style={{
        position: 'absolute',
        left: plotLeft[index] - AXIS_W,
        top: plotTop[index] - TITLE_H,
        width,
        height,
        display: 'block',
      }}
    />
  );
}

export default function App() {
  return (
    <div
      style={{
        position: 'absolute',
        left: 0,
        top: 0,
        width: 1265,
        height: 730,
        overflow: 'hidden',
        background: '#fff',
      }}
    >
      {components.map((_, i) => (
        <Panel key={i} index={i} />
      ))}
    </div>
  );
}
